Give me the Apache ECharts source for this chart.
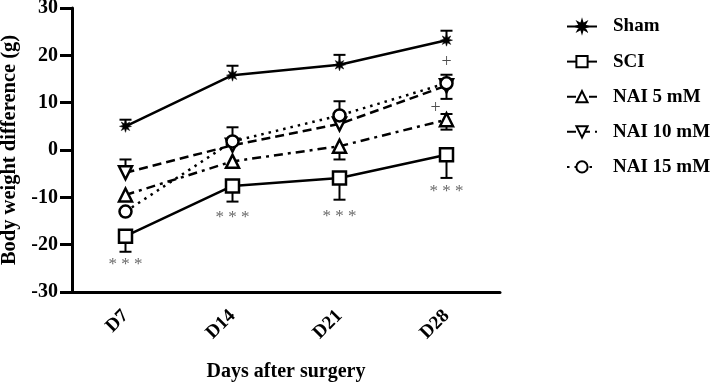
<!DOCTYPE html>
<html><head><meta charset="utf-8">
<script src="https://cdn.jsdelivr.net/npm/echarts@6/dist/echarts.min.js"></script>
<style>html,body{margin:0;padding:0;background:#fff}#c{width:713px;height:384px}</style>
</head><body><div id="c"></div>
<script>
const categories = ['D7', 'D14', 'D21', 'D28'];
const yTicks = [-30, -20, -10, 0, 10, 20, 30];
const seriesNames = ['Sham', 'SCI', 'NAI 5 mM', 'NAI 10 mM', 'NAI 15 mM'];
const sham = [5.0, 15.8, 18.0, 23.2];
const sci = [-18.2, -7.6, -5.9, -1.0];
const nai5 = [-9.5, -2.4, 0.8, 6.4];
const nai10 = [-4.8, 1.0, 5.5, 13.6];
const nai15 = [-13.0, 1.8, 7.3, 14.1];
// error bar end values (null = not visible)
const shamErrHigh = [6.4, 17.8, 20.1, 25.2];
const sciErrLow = [-21.5, -10.9, -10.5, -5.9];
const nai5ErrHigh = [null, null, null, 7.6];
const nai5ErrLow = [null, null, -2.0, 4.3];
const nai10ErrHigh = [-2.0, 4.8, null, null];
const nai15ErrHigh = [null, null, 10.3, 15.9];
const nai15ErrLow = [null, null, null, 10.8];
// significance annotations
const starCats = ['D7', 'D14', 'D21', 'D28'];
const starVals = [-24.3, -14.2, -14.0, -8.7];
const plusCats = ['D28', 'D28'];
const plusVals = [18.6, 8.8];

const FONT = '"Liberation Serif", "Times New Roman", serif';
const starPath = 'path://M0,-10L1.72,-4.16L7.07,-7.07L4.16,-1.72L10,0L4.16,1.72L7.07,7.07L1.72,4.16L0,10L-1.72,4.16L-7.07,7.07L-4.16,1.72L-10,0L-4.16,-1.72L-7.07,-7.07L-1.72,-4.16Z';

function errData(ends, vals) {
  const out = [];
  ends.forEach((e, i) => { if (e !== null) out.push([i, vals[i], e]); });
  return out;
}
const errAll = [].concat(
  errData(shamErrHigh, sham), errData(sciErrLow, sci),
  errData(nai5ErrHigh, nai5), errData(nai5ErrLow, nai5),
  errData(nai10ErrHigh, nai10),
  errData(nai15ErrHigh, nai15), errData(nai15ErrLow, nai15)
);

function lineSeries(name, data, symbol, size, type, rotate) {
  return {
    name: name, type: 'line', data: data, symbol: symbol, symbolSize: size,
    symbolRotate: rotate || 0, z: 5,
    lineStyle: { color: '#000', width: 2.5, type: type },
    itemStyle: { color: symbol === starPath ? '#000' : '#fff', borderColor: '#000', borderWidth: symbol === starPath ? 0.5 : 2.5 },
    emphasis: { disabled: true }
  };
}

const chart = echarts.init(document.getElementById('c'));
chart.setOption({
  animation: false,
  backgroundColor: '#fff',
  grid: { left: 72, right: 213, top: 8, bottom: 92, containLabel: false, outerBoundsMode: 'none' },
  legend: {
    orient: 'vertical', left: 561, top: 12, itemGap: 16.1, itemWidth: 30, itemHeight: 14,
    data: seriesNames,
    textStyle: { fontFamily: FONT, fontWeight: 'bold', fontSize: 19, color: '#000', padding: [0, 0, 0, 11] }
  },
  xAxis: {
    type: 'category', data: categories, boundaryGap: true,
    name: 'Days after surgery', nameLocation: 'middle', nameGap: 70,
    nameTextStyle: { fontFamily: FONT, fontWeight: 'bold', fontSize: 20, color: '#000' },
    axisLine: { onZero: false, lineStyle: { color: '#000', width: 3 } },
    axisTick: { alignWithLabel: true, length: 12, lineStyle: { width: 3, color: '#000' } },
    axisLabel: { rotate: 45, margin: 21, fontFamily: FONT, fontWeight: 'bold', fontSize: 19, color: '#000' }
  },
  yAxis: {
    type: 'value', min: yTicks[0], max: yTicks[yTicks.length - 1], interval: 10,
    name: 'Body weight difference (g)', nameLocation: 'middle', nameGap: 52,
    nameTextStyle: { fontFamily: FONT, fontWeight: 'bold', fontSize: 20.5, color: '#000' },
    splitLine: { show: false },
    axisLine: { show: true, lineStyle: { color: '#000', width: 3 } },
    axisTick: { show: true, length: 12, lineStyle: { width: 3, color: '#000' } },
    axisLabel: { margin: 14, fontFamily: FONT, fontWeight: 'bold', fontSize: 20, color: '#000' }
  },
  series: [
    {
      type: 'custom', name: 'err', z: 3, data: errAll, silent: true,
      renderItem: function (params, api) {
        const p0 = api.coord([api.value(0), api.value(1)]);
        const p1 = api.coord([api.value(0), api.value(2)]);
        const hw = 6;
        return {
          type: 'group', children: [
            { type: 'line', shape: { x1: p0[0], y1: p0[1], x2: p1[0], y2: p1[1] }, style: { stroke: '#000', lineWidth: 2 } },
            { type: 'line', shape: { x1: p1[0] - hw, y1: p1[1], x2: p1[0] + hw, y2: p1[1] }, style: { stroke: '#000', lineWidth: 2 } }
          ]
        };
      }
    },
    lineSeries(seriesNames[0], sham, starPath, 12, 'solid'),
    lineSeries(seriesNames[1], sci, 'rect', 13, 'solid'),
    lineSeries(seriesNames[2], nai5, 'triangle', 13, [9, 5, 3, 5]),
    lineSeries(seriesNames[3], nai10, 'triangle', 13, [9, 5], 180),
    lineSeries(seriesNames[4], nai15, 'circle', 12, [2.5, 5]),
    {
      type: 'scatter', name: 'stars', silent: true, symbolSize: 1, itemStyle: { color: 'rgba(0,0,0,0)' },
      data: starCats.map((c, i) => [c, starVals[i]]),
      label: { show: true, position: 'inside', formatter: '* * *', fontFamily: FONT, fontSize: 17, color: '#444' }
    },
    {
      type: 'scatter', name: 'plus', silent: true, symbolSize: 1, itemStyle: { color: 'rgba(0,0,0,0)' },
      data: plusCats.map((c, i) => ({ value: [c, plusVals[i]], label: { offset: [i === 1 ? -11 : 0, 0] } })),
      label: { show: true, position: 'inside', formatter: '+', fontFamily: FONT, fontSize: 18, color: '#222' }
    }
  ]
});
</script></body></html>
